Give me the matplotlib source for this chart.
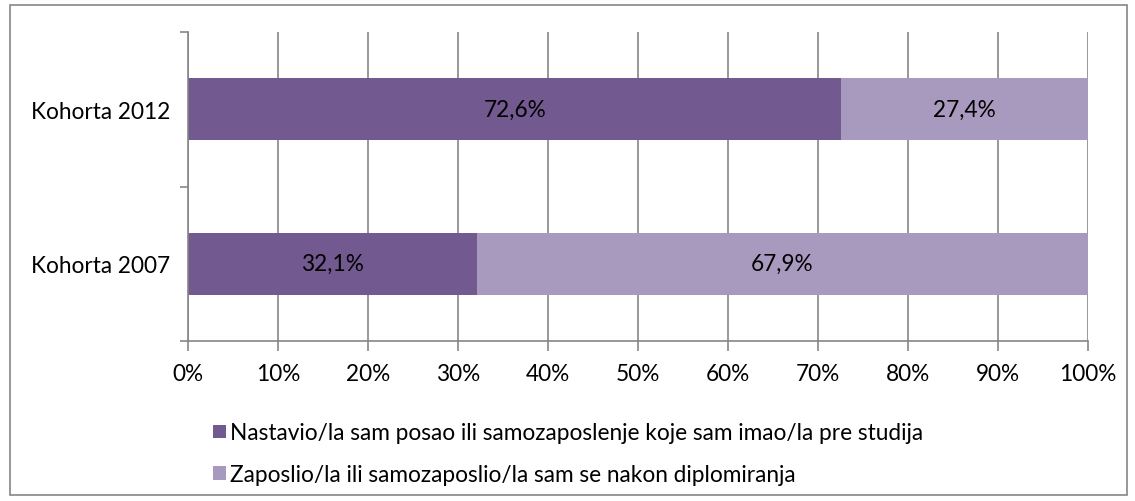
import matplotlib.pyplot as plt
from matplotlib.patches import Rectangle

categories = ["Kohorta 2007", "Kohorta 2012"]
continued = [32.1, 72.6]
new_job = [67.9, 27.4]
series_names = [
    "Nastavio/la sam posao ili samozaposlenje koje sam imao/la pre studija",
    "Zaposlio/la ili samozaposlio/la sam se nakon diplomiranja",
]
colors = ["#72598F", "#A899BE"]

plt.rcParams["font.family"] = ["Lato", "DejaVu Sans"]
fs = 16.3

fig = plt.figure(figsize=(11.35, 5.02), dpi=100)
ax = fig.add_axes([188 / 1135, 1 - 342 / 502, 900 / 1135, 309 / 502])

fig.patches.append(Rectangle((10 / 1135, 6 / 502), 1117 / 1135, 490 / 502,
                             transform=fig.transFigure, fill=False,
                             edgecolor="#868686", linewidth=1.2))

ax.barh(categories, continued, height=0.4, color=colors[0], label=series_names[0], zorder=2)
ax.barh(categories, new_job, left=continued, height=0.4, color=colors[1], label=series_names[1], zorder=2)

for i in range(len(categories)):
    ax.text(continued[i] / 2, i, f"{continued[i]:.1f}%".replace(".", ","),
            ha="center", va="center", fontsize=fs, color="black", zorder=3)
    ax.text(continued[i] + new_job[i] / 2, i, f"{new_job[i]:.1f}%".replace(".", ","),
            ha="center", va="center", fontsize=fs, color="black", zorder=3)

ax.set_xlim(0, 100)
ax.set_ylim(-0.5, 1.5)
ax.set_xticks(range(0, 101, 10))
ax.set_xticklabels([f"{v}%" for v in range(0, 101, 10)])
ax.set_yticks([-0.5, 0.5, 1.5], minor=False)
ax.set_yticklabels([])
ax.set_yticks([0, 1], minor=True)
ax.set_yticklabels(categories, minor=True)
ax.tick_params(axis="y", which="minor", length=0, pad=13, labelsize=fs)
ax.tick_params(axis="y", which="major", length=6, color="#868686", width=1.2)
ax.tick_params(axis="x", length=7, color="#868686", width=1.2, pad=9, labelsize=fs)

ax.grid(axis="x", color="#868686", linewidth=1.2, zorder=0)
ax.set_axisbelow(True)
for s in ["top", "right"]:
    ax.spines[s].set_visible(False)
for s in ["left", "bottom"]:
    ax.spines[s].set_color("#868686")
    ax.spines[s].set_linewidth(1.2)

fig.legend(loc="upper left", bbox_to_anchor=(193 / 1135, 1 - 403 / 502),
           frameon=False, handlelength=0.55, handleheight=0.55, handletextpad=0.2,
           labelspacing=0.9, fontsize=fs)

fig.savefig("out.png", dpi=100)
